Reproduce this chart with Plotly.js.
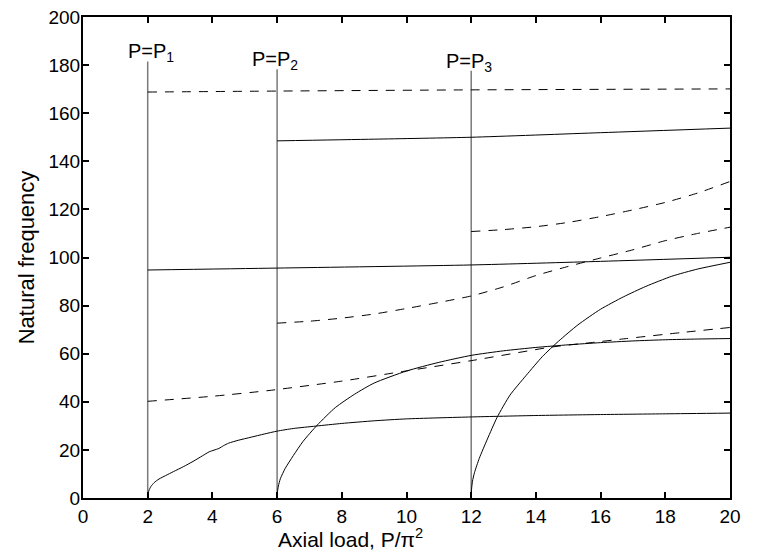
<!DOCTYPE html>
<html>
<head>
<meta charset="utf-8">
<script src="https://cdn.plot.ly/plotly-3.0.1.min.js"></script>
<style>html,body{margin:0;padding:0;background:#fff;}#chart{width:757px;height:554px;}</style>
</head>
<body>
<div id="chart"></div>
<script>
// Critical loads (vertical lines) and their drawn heights
const critX = [2, 6, 12];
const critTop = [181.5, 178.3, 177.7];
const critLabels = ["P=P<sub>1</sub>", "P=P<sub>2</sub>", "P=P<sub>3</sub>"];

// Branch starting at P1 (solid, lowest)
const s1x = [2, 2.01, 2.04, 2.1, 2.2, 2.35, 2.55, 2.8, 3.1, 3.4, 3.7, 3.9, 4.05, 4.2, 4.35, 4.5, 4.8, 5.2, 5.6, 6.0, 6.5, 7.2, 8, 9, 10, 12, 14, 16, 18, 20];
const s1y = [0, 1.5, 3.2, 4.8, 6.4, 7.9, 9.3, 11.0, 13.0, 15.2, 17.6, 19.2, 19.9, 20.6, 21.8, 22.8, 24.0, 25.3, 26.6, 27.8, 28.9, 29.9, 31.0, 32.1, 32.9, 33.7, 34.3, 34.7, 35.0, 35.3];
// Dashed branch from P1 (40 -> 71)
const d1x = [2, 4, 5.75, 8, 9.88, 12, 14.5, 15.7, 16.8, 18.5, 20];
const d1y = [40.2, 42.3, 44.7, 48.6, 52.6, 57.1, 62.8, 64.6, 66.3, 68.8, 70.9];
// Solid branch from P1 (95 -> 100)
const s2x = [2, 6, 12, 16, 20];
const s2y = [94.8, 95.6, 96.9, 98.4, 100.1];
// Dashed branch from P1 (top, ~169)
const d2x = [2, 6, 12, 20];
const d2y = [168.8, 169.2, 169.7, 170.1];
// Solid branch from P2 (0 -> 66)
const s3x = [6, 6.01, 6.04, 6.1, 6.25, 6.5, 6.8, 7.24, 7.8, 8.4, 9, 10, 11, 12, 13, 14, 15, 16, 17, 18, 19, 20];
const s3y = [0, 2.5, 5, 8, 12.3, 17.6, 23.5, 30.3, 37.6, 43.2, 47.8, 52.8, 56.4, 59.3, 61.2, 62.6, 63.7, 64.6, 65.3, 65.8, 66.1, 66.3];
// Dashed branch from P2 (72 -> 112)
const d3x = [6, 7, 8, 9, 10, 11, 12, 13, 14, 15, 16, 17, 18, 19, 20];
const d3y = [72.7, 73.5, 74.8, 76.5, 78.8, 81.3, 84.0, 87.8, 92.5, 96.3, 99.8, 103.2, 107.0, 110.0, 112.6];
// Solid branch from P2 (148 -> 154)
const s4x = [6, 9, 12, 16, 20];
const s4y = [148.5, 149.2, 150.0, 151.9, 153.8];
// Solid branch from P3 (0 -> 98)
const s5x = [12, 12.01, 12.04, 12.1, 12.25, 12.5, 12.8, 13.2, 13.7, 14.2, 14.7, 15.3, 16, 16.7, 17.4, 18.2, 19, 20];
const s5y = [0, 3.5, 7, 10.5, 16.5, 24.5, 33.5, 42.8, 51, 58.8, 65.2, 72, 78.5, 83.6, 88.0, 92.2, 95.2, 98];
// Dashed branch from P3 (110 -> 132)
const d4x = [12, 13, 14, 15, 16, 17, 18, 19, 20];
const d4y = [110.8, 111.6, 112.8, 114.6, 117.0, 119.8, 122.9, 126.8, 131.6];

const xTicks = [0, 2, 4, 6, 8, 10, 12, 14, 16, 18, 20];
const yTicks = [0, 20, 40, 60, 80, 100, 120, 140, 160, 180, 200];

const FONT = "Liberation Sans, Arial, Helvetica, sans-serif";

const traces = [];
critX.forEach((cx, i) => {
  traces.push({x: [cx, cx], y: [0, critTop[i]], mode: 'lines', line: {color: '#7a7a7a', width: 1.5}, hoverinfo: 'skip', showlegend: false});
});
function solid(x, y) { return {x, y, mode: 'lines', line: {color: '#000', width: 1, shape: 'spline', smoothing: 0.6}, showlegend: false}; }
function dashed(x, y) { return {x, y, mode: 'lines', line: {color: '#000', width: 1, dash: '9px,8px', shape: 'spline', smoothing: 0.6}, showlegend: false}; }
traces.push(solid(s1x, s1y), dashed(d1x, d1y), solid(s2x, s2y), dashed(d2x, d2y),
            solid(s3x, s3y), dashed(d3x, d3y), solid(s4x, s4y), solid(s5x, s5y), dashed(d4x, d4y));

const labelShift = [-20, -25, -25];
const annotations = critX.map((cx, i) => ({
  x: cx, y: critTop[i], xref: 'x', yref: 'y', text: critLabels[i], showarrow: false,
  xanchor: 'left', yanchor: 'bottom', xshift: labelShift[i] - 2, yshift: -6,
  font: {family: FONT, size: 20, color: '#000'}
}));
annotations.push({
  x: 0.414, y: 0, xref: 'paper', yref: 'paper', yanchor: 'top', xanchor: 'center', yshift: -25,
  text: 'Axial load, P/π<sup>2</sup>', showarrow: false, font: {family: FONT, size: 21, color: '#000'}
});

const axisCommon = {
  showgrid: false, zeroline: false, showline: true, linecolor: '#000', linewidth: 2,
  mirror: 'ticks', ticks: 'inside', ticklen: 6, tickwidth: 2, tickcolor: '#000',
  tickfont: {family: FONT, size: 19, color: '#000'}
};

const layout = {
  width: 757, height: 554,
  margin: {l: 83, r: 27, t: 17, b: 56},
  paper_bgcolor: '#fff', plot_bgcolor: '#fff',
  font: {family: FONT, color: '#000'},
  showlegend: false,
  xaxis: Object.assign({}, axisCommon, {range: [0, 20], tickvals: xTicks, ticktext: xTicks.map(String)}),
  yaxis: Object.assign({}, axisCommon, {range: [0, 200], tickvals: yTicks, ticktext: yTicks.map(String),
    ticklabelstandoff: -3,
    title: {text: 'Natural frequency', font: {family: FONT, size: 22, color: '#000'}, standoff: 8}}),
  annotations: annotations
};

Plotly.newPlot('chart', traces, layout, {staticPlot: true, displayModeBar: false});
</script>
</body>
</html>
